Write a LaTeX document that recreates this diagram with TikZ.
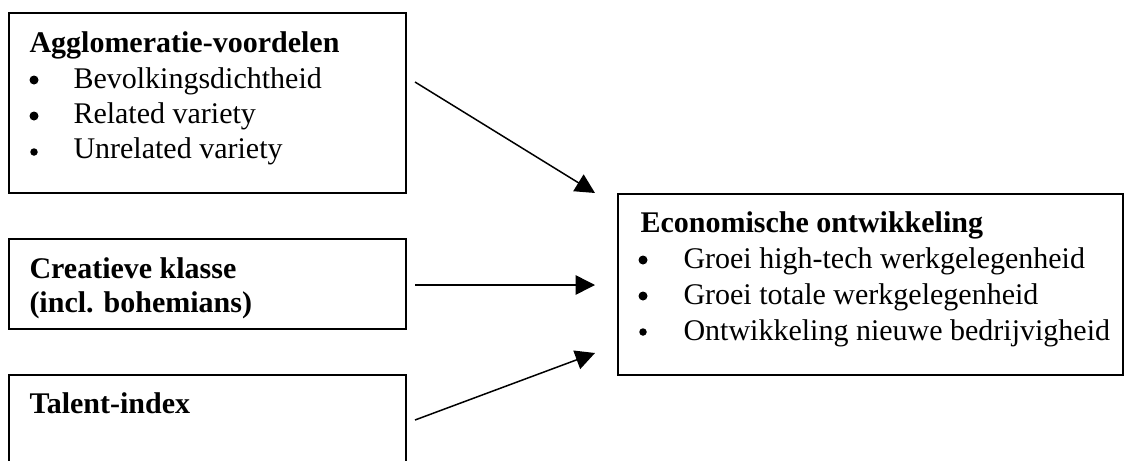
\documentclass[tikz,border=0pt]{standalone}
\usepackage{fontspec}
\setmainfont{Liberation Serif}
\usetikzlibrary{arrows.meta}
\tikzset{
  box/.style={draw=black, line width=0.8pt, anchor=north west, inner sep=0pt, outer sep=0pt},
  txt/.style={anchor=base west, inner sep=0pt, font=\fontsize{12}{14}\selectfont},
  ttl/.style={txt, font=\fontsize{12}{14}\selectfont\bfseries},
  bul/.style={circle, fill=black, inner sep=0pt, minimum size=3.6pt},
  bulsm/.style={circle, fill=black, inner sep=0pt, minimum size=3.0pt},
  arr/.style={line width=0.6pt, -{Triangle[length=7.8pt, width=7.8pt]}}
}
\begin{document}
\begin{tikzpicture}[x=0.4pt, y=-0.4pt]
\useasboundingbox (0,0) rectangle (1125,460);
% boxes
\node[box, minimum width=158.8pt, minimum height=72pt] (b1) at (9,13) {};
\node[box, minimum width=158.8pt, minimum height=36pt] (b2) at (9,239) {};
\node[box, minimum width=158.8pt, minimum height=44pt] (b3) at (9,375) {};
\node[box, minimum width=202pt, minimum height=72.4pt] (b4) at (618,194) {};
% box 1 text
\node[ttl] (t1) at (29,52) {Agglomeratie-voordelen};
\node[bul] (p11) at (34,80) {};
\node[txt] (l11) at (73,88) {Bevolkingsdichtheid};
\node[bul] (p12) at (34,116) {};
\node[txt] (l12) at (73,123) {Related variety};
\node[bulsm] (p13) at (34,152) {};
\node[txt] (l13) at (73,158) {Unrelated variety};
% box 2 text
\node[ttl] (t2) at (29,278) {Creatieve klasse};
\node[ttl] (t2b) at (29,312) {(incl. bohemians)};
% box 3 text
\node[ttl] (t3) at (29,413) {Talent-index};
% box 4 text
\node[ttl] (t4) at (640,232) {Economische ontwikkeling};
\node[bul] (p41) at (643,260) {};
\node[txt] (l41) at (683,268) {Groei high-tech werkgelegenheid};
\node[bul] (p42) at (643,296) {};
\node[txt] (l42) at (683,304) {Groei totale werkgelegenheid};
\node[bulsm] (p43) at (643,332) {};
\node[txt] (l43) at (683,340) {Ontwikkeling nieuwe bedrijvigheid};
% arrows
\coordinate (a1s) at (415,82);
\coordinate (a1e) at (595,193);
\coordinate (a2s) at (415,285);
\coordinate (a2e) at (595,285);
\coordinate (a3s) at (415,420);
\coordinate (a3e) at (595,353);
\draw[arr] (a1s) -- (a1e);
\draw[arr] (a2s) -- (a2e);
\draw[arr] (a3s) -- (a3e);
\end{tikzpicture}
\end{document}
